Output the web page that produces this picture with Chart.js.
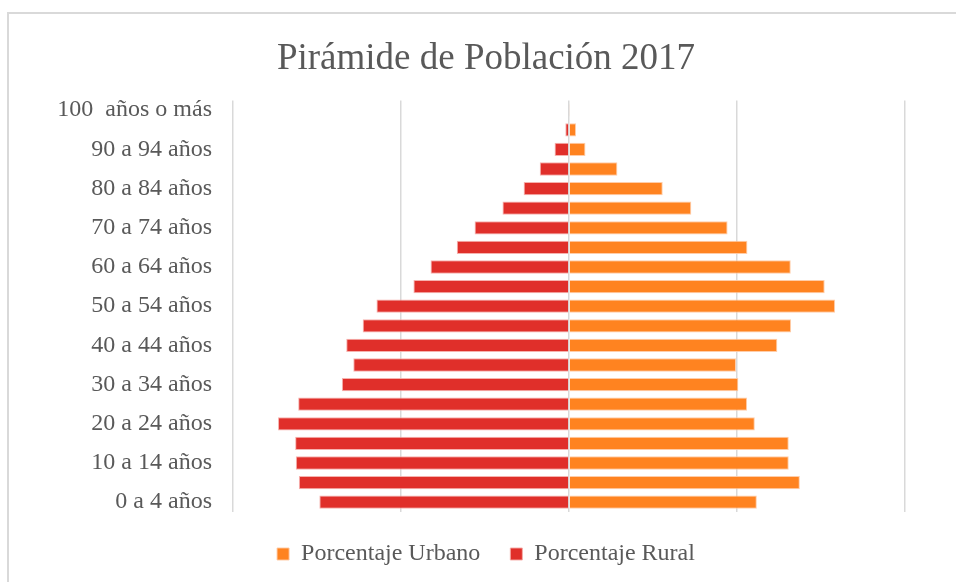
<!DOCTYPE html>
<html>
<head>
<meta charset="utf-8">
<script src="https://cdn.jsdelivr.net/npm/chart.js@4.4.1/dist/chart.umd.min.js"></script>
<style>
  html, body { margin: 0; padding: 0; background: #ffffff; }
  #wrap { position: relative; width: 956px; height: 582px; }
  canvas { display: block; }
</style>
</head>
<body>
<div id="wrap"><canvas id="c" width="956" height="582"></canvas></div>
<script>
const categories = [
  "0 a 4 años", "5 a 9 años", "10 a 14 años", "15 a 19 años", "20 a 24 años",
  "25 a 29 años", "30 a 34 años", "35 a 39 años", "40 a 44 años", "45 a 49 años",
  "50 a 54 años", "55 a 59 años", "60 a 64 años", "65 a 69 años", "70 a 74 años",
  "75 a 79 años", "80 a 84 años", "85 a 89 años", "90 a 94 años", "95 a 99 años",
  "100  años o más"
];
const urbano = [5.59, 6.87, 6.54, 6.54, 5.53, 5.30, 5.04, 4.97, 6.20, 6.61,
                7.92, 7.61, 6.60, 5.31, 4.72, 3.64, 2.79, 1.44, 0.49, 0.21, 0.03];
const rural = [7.43, 8.04, 8.13, 8.15, 8.66, 8.06, 6.76, 6.42, 6.63, 6.14,
               5.73, 4.63, 4.12, 3.34, 2.81, 1.98, 1.35, 0.87, 0.43, 0.11, 0.02];
const xTicks = [-10, -5, 0, 5, 10];

const frame = {
  id: 'frame',
  beforeDraw(chart) {
    const ctx = chart.ctx;
    ctx.save();
    ctx.fillStyle = '#ffffff';
    ctx.fillRect(0, 0, chart.width, chart.height);
    ctx.strokeStyle = '#d9d9d9';
    ctx.lineWidth = 2;
    ctx.beginPath();
    ctx.moveTo(8, chart.height + 2);
    ctx.lineTo(8, 13);
    ctx.lineTo(chart.width + 2, 13);
    ctx.stroke();
    ctx.restore();
  }
};

const serif = "'Liberation Serif', 'Times New Roman', serif";
const PAD_LEFT = 16;

new Chart(document.getElementById('c'), {
  type: 'bar',
  data: {
    labels: categories,
    datasets: [
      {
        label: 'Porcentaje Urbano',
        data: urbano,
        backgroundColor: '#FF8320',
        borderColor: 'rgba(255,200,160,0.9)',
        borderWidth: 1,
        barPercentage: 0.68,
        categoryPercentage: 1.0
      },
      {
        label: 'Porcentaje Rural',
        data: rural.map(v => -v),
        backgroundColor: '#E02F2A',
        borderColor: 'rgba(245,170,165,0.9)',
        borderWidth: 1,
        barPercentage: 0.68,
        categoryPercentage: 1.0
      }
    ]
  },
  options: {
    indexAxis: 'y',
    responsive: false,
    animation: false,
    layout: { padding: { left: PAD_LEFT, right: 0, top: 20, bottom: 6 } },
    plugins: {
      title: {
        display: true,
        text: 'Pirámide de Población 2017',
        color: '#595959',
        font: { family: serif, size: 37, weight: 'normal' },
        padding: { top: 17, bottom: 19 }
      },
      legend: {
        position: 'bottom',
        labels: {
          color: '#595959',
          font: { family: serif, size: 24 },
          boxWidth: 12,
          boxHeight: 12,
          padding: 30
        }
      },
      tooltip: { enabled: false }
    },
    scales: {
      x: {
        stacked: true,
        min: -10,
        max: 10,
        afterBuildTicks(scale) { scale.ticks = xTicks.map(v => ({ value: v })); },
        ticks: { display: false },
        grid: { color: '#d9d9d9', lineWidth: 1.5, drawTicks: false },
        border: { display: false }
      },
      y: {
        stacked: true,
        reverse: true,
        afterFit(scale) { scale.width = 233 - PAD_LEFT; },
        ticks: {
          autoSkip: false,
          color: '#595959',
          padding: 21,
          font: { family: serif, size: 24 },
          callback(value, index) { return index % 2 === 0 ? this.getLabelForValue(value) : ''; }
        },
        grid: { display: false, drawTicks: false },
        border: { display: false }
      },
      yRight: {
        type: 'category',
        position: 'right',
        display: true,
        afterFit(scale) { scale.width = 51; },
        ticks: { display: false },
        grid: { display: false, drawTicks: false },
        border: { display: false }
      }
    }
  },
  plugins: [frame]
});
</script>
</body>
</html>
